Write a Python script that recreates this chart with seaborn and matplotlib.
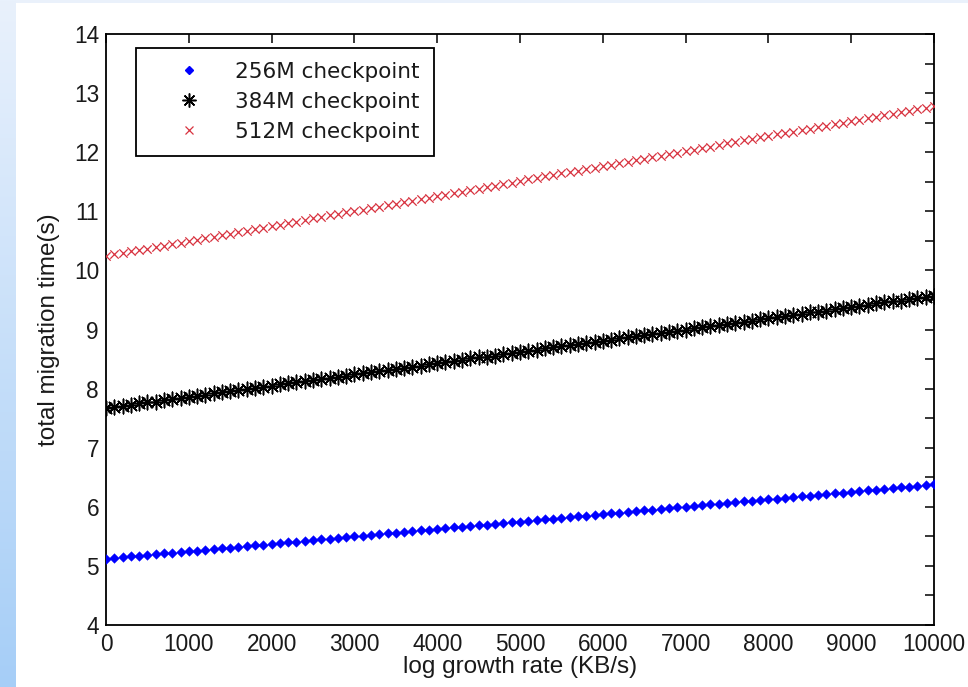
import numpy as np
import pandas as pd
import matplotlib
matplotlib.use("Agg")
import matplotlib.pyplot as plt
from matplotlib.lines import Line2D
from matplotlib.ticker import MultipleLocator
from matplotlib.colors import LinearSegmentedColormap
import seaborn as sns

x_values = list(range(0, 10001, 100))

time_256 = [5.12, 5.13, 5.15, 5.16, 5.17, 5.18, 5.20, 5.21, 5.22, 5.23,
            5.25, 5.26, 5.27, 5.28, 5.30, 5.31, 5.32, 5.33, 5.35, 5.36,
            5.37, 5.38, 5.40, 5.41, 5.42, 5.44, 5.45, 5.46, 5.47, 5.49,
            5.50, 5.51, 5.52, 5.54, 5.55, 5.56, 5.57, 5.59, 5.60, 5.61,
            5.62, 5.64, 5.65, 5.66, 5.67, 5.69, 5.70, 5.71, 5.72, 5.74,
            5.75, 5.76, 5.78, 5.79, 5.80, 5.81, 5.83, 5.84, 5.85, 5.86,
            5.88, 5.89, 5.90, 5.91, 5.93, 5.94, 5.95, 5.96, 5.98, 5.99,
            6.00, 6.01, 6.03, 6.04, 6.05, 6.07, 6.08, 6.09, 6.10, 6.12,
            6.13, 6.14, 6.15, 6.17, 6.18, 6.19, 6.20, 6.22, 6.23, 6.24,
            6.25, 6.27, 6.28, 6.29, 6.30, 6.32, 6.33, 6.34, 6.35, 6.37,
            6.38]

time_384 = [7.67, 7.69, 7.71, 7.73, 7.75, 7.77, 7.78, 7.80, 7.82, 7.84,
            7.86, 7.88, 7.90, 7.92, 7.94, 7.96, 7.97, 7.99, 8.01, 8.03,
            8.05, 8.07, 8.09, 8.11, 8.13, 8.15, 8.16, 8.18, 8.20, 8.22,
            8.24, 8.26, 8.28, 8.30, 8.32, 8.34, 8.35, 8.37, 8.39, 8.41,
            8.43, 8.45, 8.47, 8.49, 8.51, 8.53, 8.54, 8.56, 8.58, 8.60,
            8.62, 8.64, 8.66, 8.68, 8.70, 8.72, 8.73, 8.75, 8.77, 8.79,
            8.81, 8.83, 8.85, 8.87, 8.89, 8.91, 8.92, 8.94, 8.96, 8.98,
            9.00, 9.02, 9.04, 9.06, 9.08, 9.10, 9.11, 9.13, 9.15, 9.17,
            9.19, 9.21, 9.23, 9.25, 9.27, 9.29, 9.30, 9.32, 9.34, 9.36,
            9.38, 9.40, 9.42, 9.44, 9.46, 9.48, 9.49, 9.51, 9.53, 9.55,
            9.57]

time_512 = [10.24, 10.27, 10.29, 10.32, 10.34, 10.37, 10.39, 10.42, 10.44, 10.47,
            10.49, 10.52, 10.54, 10.57, 10.60, 10.62, 10.65, 10.67, 10.70, 10.72,
            10.75, 10.77, 10.80, 10.82, 10.85, 10.88, 10.90, 10.93, 10.95, 10.98,
            11.00, 11.03, 11.05, 11.08, 11.10, 11.13, 11.15, 11.18, 11.21, 11.23,
            11.26, 11.28, 11.31, 11.33, 11.36, 11.38, 11.41, 11.43, 11.46, 11.48,
            11.51, 11.54, 11.56, 11.59, 11.61, 11.64, 11.66, 11.69, 11.71, 11.74,
            11.76, 11.79, 11.81, 11.84, 11.87, 11.89, 11.92, 11.94, 11.97, 11.99,
            12.02, 12.04, 12.07, 12.09, 12.12, 12.15, 12.17, 12.20, 12.22, 12.25,
            12.27, 12.30, 12.32, 12.35, 12.37, 12.40, 12.42, 12.45, 12.48, 12.50,
            12.53, 12.55, 12.58, 12.60, 12.63, 12.65, 12.68, 12.70, 12.73, 12.75,
            12.78]

series_labels = ["256M checkpoint", "384M checkpoint", "512M checkpoint"]
x_ticks = list(range(0, 10001, 1000))
y_ticks = list(range(4, 15))

sns.set_theme(style="white")
plt.rcParams['font.family'] = ['Liberation Sans', 'DejaVu Sans']

W, H = 968, 687
fig = plt.figure(figsize=(W / 100, H / 100), dpi=100)
fig.patch.set_facecolor("white")

# decorative background strips
bg_left = fig.add_axes([0, 0, 16 / W, 1])
grad = np.linspace(0, 1, 256).reshape(-1, 1)
cmap = LinearSegmentedColormap.from_list("bg", ["#e9f1fc", "#a6cef7"])
bg_left.imshow(grad, aspect="auto", cmap=cmap, extent=[0, 1, 0, 1], origin="upper")
bg_left.set_axis_off()
bg_top = fig.add_axes([16 / W, 1 - 3 / H, 1 - 16 / W, 3 / H])
bg_top.set_facecolor("#eaf1fb")
bg_top.set_xticks([]); bg_top.set_yticks([])
for s in bg_top.spines.values():
    s.set_visible(False)

left, right, top, bottom = 106, 934, 34, 625
ax = fig.add_axes([left / W, 1 - bottom / H, (right - left) / W, (bottom - top) / H])
ax.set_facecolor("white")

df = pd.DataFrame({"x": x_values, "t256": time_256, "t384": time_384, "t512": time_512})

blue = "#0000ff"
red = "#d8323f"
star = (8, 2, 0)

sns.scatterplot(data=df, x="x", y="t256", ax=ax, marker="D", color=blue,
                s=24, linewidth=0.3, edgecolor=blue, zorder=3)
sns.scatterplot(data=df, x="x", y="t384", ax=ax, marker=star, color="black",
                s=110, linewidth=1.1, zorder=3)
sns.scatterplot(data=df, x="x", y="t512", ax=ax, marker="x", color=red,
                s=36, linewidth=0.9, zorder=3)

ax.set_xlim(0, 10000)
ax.set_ylim(4, 14)
ax.set_xticks(x_ticks)
ax.set_xticklabels([str(v) for v in x_ticks])
ax.set_yticks(y_ticks)
ax.set_yticklabels([str(v) for v in y_ticks])
ax.yaxis.set_minor_locator(MultipleLocator(0.5))
ax.tick_params(axis="both", which="both", direction="in", top=True, right=True,
               length=6.5, width=1.1, color="black", labelsize=16.3, labelcolor="#1a1a1a",
               pad=5)
ax.tick_params(axis="x", which="minor", length=0)
ax.tick_params(axis="x", which="major", pad=5.5)
for s in ax.spines.values():
    s.set_visible(True)
    s.set_color("black")
    s.set_linewidth(1.3)

ax.set_xlabel("log growth rate (KB/s)", fontsize=17.5, color="#1a1a1a", labelpad=0)
ax.set_ylabel("total migration time(s)", fontsize=17.5, color="#1a1a1a", labelpad=10)

handles = [
    Line2D([], [], linestyle="", marker="D", color=blue, markersize=4.5),
    Line2D([], [], linestyle="", marker=star, color="black", markersize=10, markeredgewidth=1.1),
    Line2D([], [], linestyle="", marker="x", color=red, markersize=5.5, markeredgewidth=0.9),
]
leg = ax.legend(handles, series_labels, loc="upper left",
                bbox_to_anchor=((136 - left) / (right - left), (bottom - 48) / (bottom - top)),
                prop={"family": "DejaVu Sans", "size": 15.5},
                frameon=True, fancybox=False, borderaxespad=0,
                handletextpad=0.34, labelspacing=0.47, borderpad=0.64, handlelength=3.63)
for t in leg.get_texts():
    t.set_color("#1a1a1a")
leg.get_frame().set_edgecolor("black")
leg.get_frame().set_linewidth(1.3)
leg.get_frame().set_facecolor("white")
leg.get_frame().set_alpha(1)

fig.savefig("out.png", dpi=100)
